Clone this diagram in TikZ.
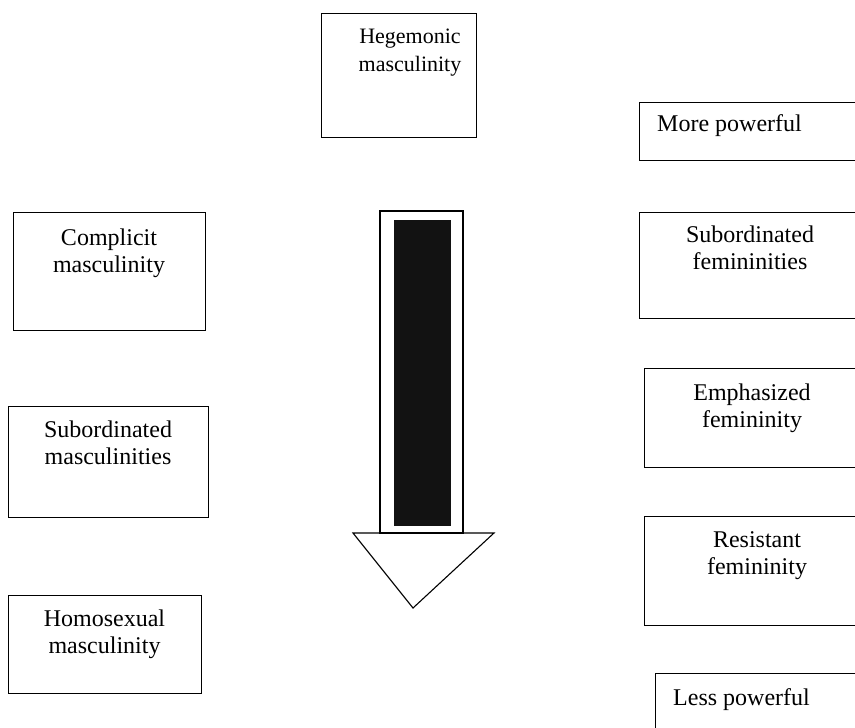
\documentclass[tikz,border=0pt]{standalone}
\usepackage{fontspec}
\setmainfont{Liberation Serif}
\begin{document}
\begin{tikzpicture}[x=1pt,y=-1pt,
  box/.style={draw, line width=1.1pt, rectangle, anchor=north west, inner sep=0pt},
  lbl/.style={font=\fontsize{24}{27.6}\selectfont, align=center, inner sep=0pt, anchor=north},
  lbll/.style={font=\fontsize{24}{27.6}\selectfont, inner sep=0pt, anchor=north west},
  shapeline/.style={draw, line width=1.1pt, line join=miter}]
\useasboundingbox (0,0) rectangle (855,728);
\clip (0,0) rectangle (855,728);

% boxes
\node[box, minimum width=155pt, minimum height=124pt] (heg)  at (321,13)  {};
\node[box, minimum width=192pt, minimum height=118pt] (comp) at (13,212)  {};
\node[box, minimum width=200pt, minimum height=111pt] (subm) at (8,406)   {};
\node[box, minimum width=193pt, minimum height=98pt]  (homo) at (8,595)   {};
\node[box, minimum width=230pt, minimum height=58pt]  (more) at (639,102) {};
\node[box, minimum width=230pt, minimum height=106pt] (subf) at (639,212) {};
\node[box, minimum width=230pt, minimum height=99pt]  (emph) at (644,368) {};
\node[box, minimum width=230pt, minimum height=109pt] (resi) at (644,516) {};
\node[box, minimum width=230pt, minimum height=80pt]  (less) at (655,673) {};

% labels
\node[lbl, font=\fontsize{22}{28}\selectfont] (thg) at (410,23.4) {\strut Hegemonic\\masculinity};
\node[lbl]  (tcm) at (109,225.7) {\strut Complicit\\masculinity};
\node[lbl]  (tsm) at (108,417.7) {\strut Subordinated\\masculinities};
\node[lbl]  (tho) at (104.5,606.7) {\strut Homosexual\\masculinity};
\node[lbl]  (tsf) at (750,222.7) {\strut Subordinated\\femininities};
\node[lbl]  (tem) at (752,380.7) {\strut Emphasized\\femininity};
\node[lbl]  (tre) at (757,527.7) {\strut Resistant\\femininity};
\node[lbll] (tmp) at (657,111.7) {\strut More powerful};
\node[lbll] (tlp) at (673,685.7) {\strut Less powerful};

% downward arrow
\coordinate (sTL) at (380,211);
\coordinate (sBR) at (463,533);
\draw[shapeline] (sTL) rectangle (sBR);
\fill[black!93] (394,220) rectangle (451,526);
\coordinate (hL) at (353,533);
\coordinate (hR) at (494,533);
\coordinate (hT) at (413,608);
\draw[shapeline] (hL) -- (hR) -- (hT) -- cycle;
\end{tikzpicture}
\end{document}
